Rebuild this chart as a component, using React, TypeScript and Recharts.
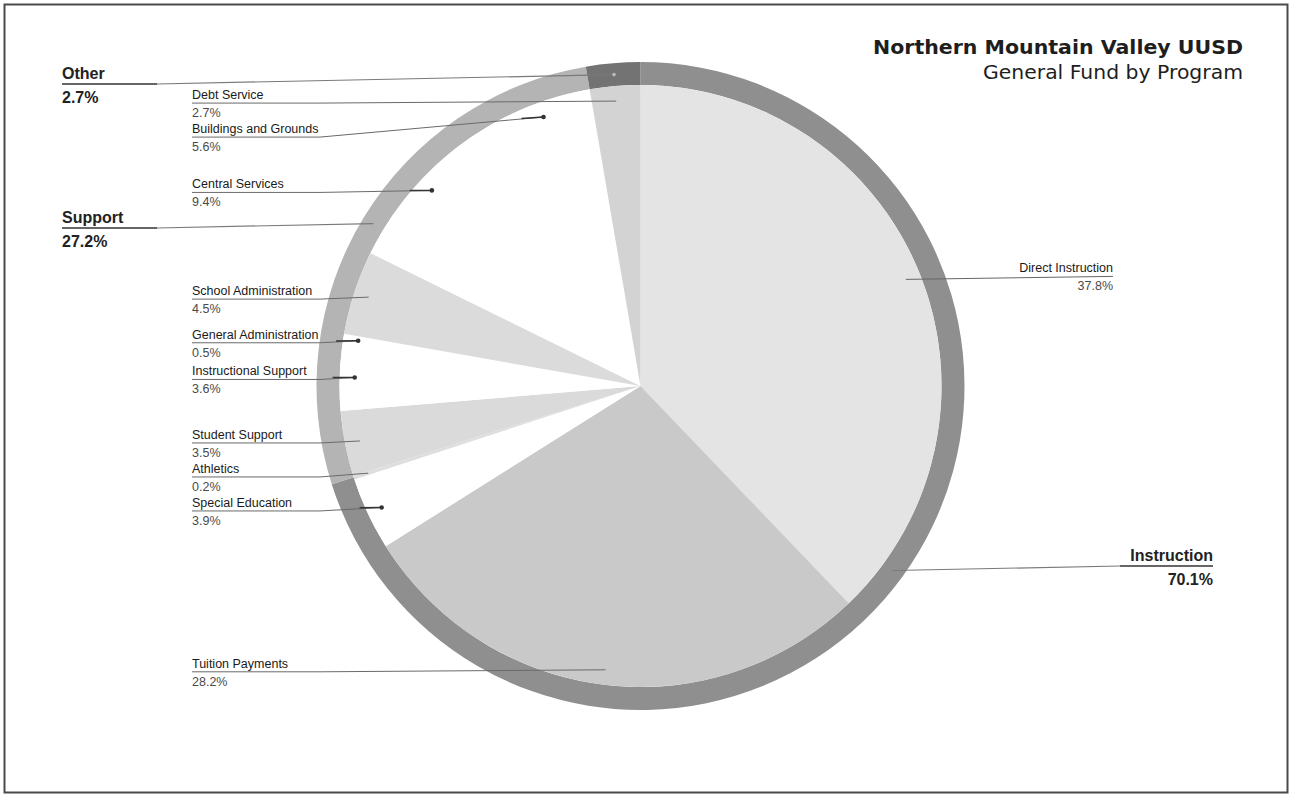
import React from 'react';
import { PieChart, Pie, Cell } from 'recharts';

// ---------- data ----------
const programNames = [
  'Direct Instruction',
  'Tuition Payments',
  'Special Education',
  'Athletics',
  'Student Support',
  'Instructional Support',
  'General Administration',
  'School Administration',
  'Central Services',
  'Buildings and Grounds',
  'Debt Service',
];
const programShares = [37.8, 28.2, 3.9, 0.2, 3.5, 3.6, 0.5, 4.5, 9.4, 5.6, 2.7];
const programFills = ['#e4e4e4', '#c9c9c9', '#ffffff', '#dedede', '#dadada', '#ffffff', '#ffffff', '#dbdbdb', '#ffffff', '#ffffff', '#d3d3d3'];

const groupNames = ['Instruction', 'Support', 'Other'];
const groupShares = [70.1, 27.2, 2.7];
const groupFills = ['#8f8f8f', '#b4b4b4', '#737373'];

const titleText = 'Northern Mountain Valley UUSD';
const subtitleText = 'General Fund by Program';

// ---------- layout ----------
const W = 1291;
const H = 799;
const CX = 640.5;
const CY = 386;
const R_IN = 301;
const R_OUT = 324;
const RAD = Math.PI / 180;
const LEFT_LABEL_X = 192;
const RIGHT_LABEL_X = 1113;
const MIN_GAP = 34;

// group label placement (text anchors only)
const groupLabelLayout = [
  { x: 1213, y: 566, side: 'right' },
  { x: 62, y: 228, side: 'left' },
  { x: 62, y: 84, side: 'left' },
];

const programData = programNames.map((name, i) => ({ name, value: programShares[i] }));
const groupData = groupNames.map((name, i) => ({ name, value: groupShares[i] }));

// label y positions, spread to avoid overlap (same angle math as the pie)
const labelY: number[] = (() => {
  const total = programShares.reduce((a, b) => a + b, 0);
  let cum = 0;
  const pts = programShares.map((v, i) => {
    const mid = 90 - (360 * (cum + v / 2)) / total;
    cum += v;
    const r = R_IN * 0.95;
    return {
      i,
      x: CX + r * Math.cos(-mid * RAD),
      y: CY + r * Math.sin(-mid * RAD),
    };
  });
  const out: number[] = new Array(programShares.length).fill(0);
  const left = pts.filter((p) => p.x < CX).sort((a, b) => a.y - b.y);
  let prev = -Infinity;
  left.forEach((p) => {
    const y = Math.max(p.y + 2, prev + MIN_GAP);
    out[p.i] = y;
    prev = y;
  });
  pts.filter((p) => p.x >= CX).forEach((p) => {
    out[p.i] = p.y - 3;
  });
  return out;
})();

const nameStyle = { fontFamily: '"Liberation Sans", Arial, sans-serif', fontSize: 12.5, fill: '#1a1a1a' };
const pctStyle = { fontFamily: '"Liberation Sans", Arial, sans-serif', fontSize: 12.5, fill: '#4a4a4a' };
const groupStyle = { fontFamily: '"Liberation Sans", Arial, sans-serif', fontSize: 16, fontWeight: 700, fill: '#222' };

const renderProgramLabel = (props: any) => {
  const { cx, cy, midAngle, outerRadius, index } = props;
  const r = outerRadius * 0.95;
  const px = cx + r * Math.cos(-midAngle * RAD);
  const py = cy + r * Math.sin(-midAngle * RAD);
  const right = px >= cx;
  const ly = labelY[index];
  const white = programFills[index] === '#ffffff';
  const pct = programShares[index].toFixed(1) + '%';
  if (right) {
    return (
      <g key={'pl' + index}>
        <polyline points={`${px},${py} ${RIGHT_LABEL_X},${ly}`} fill="none" stroke="#666" strokeWidth={1} />
        <text x={RIGHT_LABEL_X} y={ly - 4} textAnchor="end" style={nameStyle}>{programNames[index]}</text>
        <text x={RIGHT_LABEL_X} y={ly + 14} textAnchor="end" style={pctStyle}>{pct}</text>
      </g>
    );
  }
  const bend = Math.min(px - 12, LEFT_LABEL_X + 128);
  return (
    <g key={'pl' + index}>
      <polyline
        points={`${LEFT_LABEL_X},${ly} ${bend},${ly} ${px},${py}`}
        fill="none"
        stroke="#6a6a6a"
        strokeWidth={1}
      />
      {white && (
        <>
          <line x1={px - 22} y1={py + (ly - py) * 0.08} x2={px} y2={py} stroke="#333" strokeWidth={1.5} />
          <circle cx={px} cy={py} r={2.3} fill="#333" />
        </>
      )}
      <text x={LEFT_LABEL_X} y={ly - 4} style={nameStyle}>{programNames[index]}</text>
      <text x={LEFT_LABEL_X} y={ly + 14} style={pctStyle}>{pct}</text>
    </g>
  );
};

const renderGroupLabel = (props: any) => {
  const { cx, cy, midAngle, innerRadius, outerRadius, index } = props;
  const r = (innerRadius + outerRadius) / 2;
  const px = cx + r * Math.cos(-midAngle * RAD);
  const py = cy + r * Math.sin(-midAngle * RAD);
  const lay = groupLabelLayout[index];
  const right = lay.side === 'right';
  const uStart = lay.x;
  const uEnd = right ? lay.x - 93 : lay.x + 95;
  const pct = groupShares[index].toFixed(1) + '%';
  return (
    <g key={'gl' + index}>
      <line x1={uEnd} y1={lay.y} x2={px} y2={py} stroke="#7a7a7a" strokeWidth={1.2} />
      <line x1={uStart} y1={lay.y} x2={uEnd} y2={lay.y} stroke="#333" strokeWidth={1.6} />
      {index === 2 && <circle cx={px} cy={py} r={1.8} fill="#bbb" />}
      <text x={lay.x} y={lay.y - 5} textAnchor={right ? 'end' : 'start'} style={groupStyle}>
        {groupNames[index]}
      </text>
      <text x={lay.x} y={lay.y + 19} textAnchor={right ? 'end' : 'start'} style={groupStyle}>
        {pct}
      </text>
    </g>
  );
};

export default function App() {
  return (
    <div style={{ position: 'absolute', left: 0, top: 0, width: W, height: H, background: '#fff' }}>
      <PieChart width={W} height={H} margin={{ top: 0, right: 0, bottom: 0, left: 0 }}>
        <Pie
          data={groupData}
          dataKey="value"
          nameKey="name"
          cx={CX}
          cy={CY}
          innerRadius={R_IN}
          outerRadius={R_OUT}
          startAngle={90}
          endAngle={-270}
          stroke="none"
          label={renderGroupLabel}
          labelLine={false}
          isAnimationActive={false}
        >
          {groupData.map((d, i) => (
            <Cell key={d.name} fill={groupFills[i]} />
          ))}
        </Pie>
        <Pie
          data={programData}
          dataKey="value"
          nameKey="name"
          cx={CX}
          cy={CY}
          innerRadius={0}
          outerRadius={R_IN}
          startAngle={90}
          endAngle={-270}
          stroke="none"
          label={renderProgramLabel}
          labelLine={false}
          isAnimationActive={false}
        >
          {programData.map((d, i) => (
            <Cell key={d.name} fill={programFills[i]} />
          ))}
        </Pie>
      </PieChart>
      <svg
        width={W}
        height={H}
        style={{ position: 'absolute', left: 0, top: 0, pointerEvents: 'none' }}
      >
        <rect x={4.5} y={4.5} width={1283} height={788} fill="none" stroke="#4a4a4a" strokeWidth={2} />
        <text
          x={1243}
          y={54}
          textAnchor="end"
          textLength={370}
          lengthAdjust="spacingAndGlyphs"
          style={{ fontFamily: '"DejaVu Sans", Verdana, sans-serif', fontSize: 20, fontWeight: 700, fill: '#1e1e1e' }}
        >
          {titleText}
        </text>
        <text
          x={1243}
          y={79}
          textAnchor="end"
          textLength={260}
          lengthAdjust="spacingAndGlyphs"
          style={{ fontFamily: '"DejaVu Sans", Verdana, sans-serif', fontSize: 19, fill: '#1e1e1e' }}
        >
          {subtitleText}
        </text>
      </svg>
    </div>
  );
}
